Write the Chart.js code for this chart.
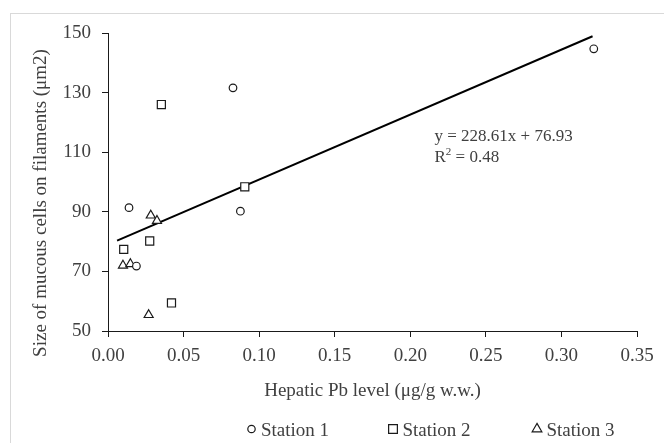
<!DOCTYPE html>
<html>
<head>
<meta charset="utf-8">
<script src="https://cdn.jsdelivr.net/npm/chart.js@4.4.0/dist/chart.umd.min.js"></script>
<style>
  html, body { margin: 0; padding: 0; background: #fff; }
  #pbChart { display: block; }
</style>
</head>
<body>
<canvas id="pbChart" width="664" height="443"></canvas>
<script>
  // values
  const station1X = [0.0139, 0.0188, 0.0827, 0.0876, 0.3214];
  const station1Y = [91.4, 71.8, 131.6, 90.2, 144.7];

  const station2X = [0.0104, 0.0276, 0.0353, 0.0420, 0.0905];
  const station2Y = [77.4, 80.2, 126.0, 59.4, 98.4];

  const station3X = [0.0099, 0.0148, 0.0269, 0.0283, 0.0324];
  const station3Y = [72.0, 72.5, 55.4, 88.8, 87.0];

  // linear trend (all stations)
  const trendX = [0.006, 0.3206];
  const trendY = [80.3, 148.9];

  const xTicks = [0, 0.05, 0.10, 0.15, 0.20, 0.25, 0.30, 0.35];
  const yTicks = [50, 70, 90, 110, 130, 150];

  const seriesNames = ['Station 1', 'Station 2', 'Station 3'];
  const equationText = 'y = 228.61x + 76.93';
  const r2Text = ' = 0.48';

  const TEXT = '#404040';
  const INK = '#1a1a1a';
  const SERIF = '"Liberation Serif", "Times New Roman", serif';

  const toPoints = (xs, ys) => xs.map((x, i) => ({x: x, y: ys[i]}));

  const extras = {
    id: 'extras',
    beforeDraw: (chart) => {
      const {ctx} = chart;
      ctx.save();
      ctx.fillStyle = '#fff';
      ctx.fillRect(0, 0, chart.width, chart.height);
      ctx.strokeStyle = '#d9d9d9';
      ctx.lineWidth = 1;
      ctx.strokeRect(10.5, 13.5, chart.width + 20, chart.height + 20);
      ctx.restore();
    },
    afterDraw: (chart) => {
      const {ctx} = chart;
      const xs = chart.scales.x, ys = chart.scales.y;

      // y axis title
      ctx.save();
      ctx.fillStyle = TEXT;
      ctx.font = '19px ' + SERIF;
      ctx.translate(41.5, 203);
      ctx.rotate(-Math.PI / 2);
      ctx.textAlign = 'center';
      ctx.textBaseline = 'middle';
      ctx.fillText('Size of mucous cells on filaments (μm2)', 0, 0);
      ctx.restore();

      // trendline equation
      ctx.save();
      ctx.fillStyle = TEXT;
      ctx.font = '17px ' + SERIF;
      ctx.textBaseline = 'alphabetic';
      const ex = xs.getPixelForValue(0.216);
      const ey = ys.getPixelForValue(115.8);
      ctx.fillText(equationText, ex, ey + 6);
      ctx.fillText('R', ex, ey + 27);
      let rx = ex + ctx.measureText('R').width;
      ctx.font = '11px ' + SERIF;
      ctx.fillText('2', rx, ey + 20);
      rx += ctx.measureText('2').width;
      ctx.font = '17px ' + SERIF;
      ctx.fillText(r2Text, rx, ey + 27);
      ctx.restore();

      // legend
      const styles = ['circle', 'rect', 'triangle'];
      const radii = [3.7, 6.2, 5.6];
      const markX = [251.5, 393, 537];
      ctx.save();
      ctx.font = '19px ' + SERIF;
      ctx.textBaseline = 'alphabetic';
      for (let i = 0; i < 3; i++) {
        ctx.fillStyle = '#fff';
        ctx.strokeStyle = INK;
        ctx.lineWidth = 1.2;
        Chart.helpers.drawPoint(ctx, {pointStyle: styles[i], radius: radii[i], rotation: 0, borderWidth: 1.2}, markX[i], 429);
        ctx.fillStyle = TEXT;
        ctx.fillText(seriesNames[i], markX[i] + 9.5, 436);
      }
      ctx.restore();
    }
  };

  const pointDefaults = {
    backgroundColor: '#fff',
    borderColor: INK,
    borderWidth: 1.2,
    showLine: false
  };

  const data = {
    datasets: [
      Object.assign({label: seriesNames[0], data: toPoints(station1X, station1Y), pointStyle: 'circle', pointRadius: 3.8, pointHoverRadius: 3.8}, pointDefaults),
      Object.assign({label: seriesNames[1], data: toPoints(station2X, station2Y), pointStyle: 'rect', pointRadius: 5.7, pointHoverRadius: 5.7}, pointDefaults),
      Object.assign({label: seriesNames[2], data: toPoints(station3X, station3Y), pointStyle: 'triangle', pointRadius: 5.2, pointHoverRadius: 5.2}, pointDefaults),
      {
        label: 'Linear',
        data: toPoints(trendX, trendY),
        showLine: true,
        borderColor: '#000',
        borderWidth: 2,
        pointRadius: 0,
        pointHoverRadius: 0,
        fill: false
      }
    ]
  };

  const config = {
    type: 'scatter',
    data: data,
    plugins: [extras],
    options: {
      responsive: false,
      animation: false,
      devicePixelRatio: 1,
      layout: {
        padding: {left: 0, right: 27, top: 33, bottom: 41}
      },
      plugins: {
        legend: {display: false},
        tooltip: {enabled: false}
      },
      scales: {
        x: {
          type: 'linear',
          min: 0,
          max: 0.35,
          afterBuildTicks: (scale) => { scale.ticks = xTicks.map(v => ({value: v})); },
          afterFit: (scale) => { scale.height = 71; },
          grid: {
            drawOnChartArea: false,
            drawTicks: true,
            tickLength: 6,
            color: INK
          },
          border: {display: true, color: INK, width: 1},
          ticks: {
            color: TEXT,
            padding: 8,
            maxRotation: 0,
            autoSkip: false,
            font: {family: SERIF, size: 19},
            callback: (v) => v.toFixed(2)
          },
          title: {
            display: true,
            text: 'Hepatic Pb level (μg/g w.w.)',
            color: TEXT,
            font: {family: SERIF, size: 19},
            padding: {top: 11, bottom: 0}
          }
        },
        y: {
          type: 'linear',
          min: 50,
          max: 150,
          afterBuildTicks: (scale) => { scale.ticks = yTicks.map(v => ({value: v})); },
          afterFit: (scale) => { scale.width = 108; },
          grid: {
            drawOnChartArea: false,
            drawTicks: true,
            tickLength: 6,
            color: INK
          },
          border: {display: true, color: INK, width: 1},
          ticks: {
            color: TEXT,
            padding: 11,
            font: {family: SERIF, size: 19}
          }
        }
      }
    }
  };

  const pbChart = new Chart(document.getElementById('pbChart'), config);
</script>
</body>
</html>
